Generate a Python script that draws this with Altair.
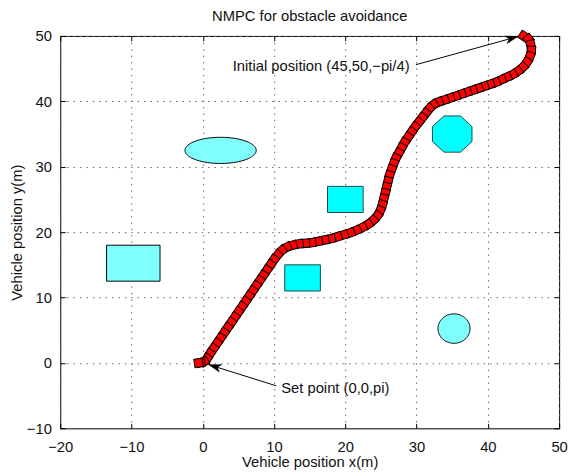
import altair as alt
import numpy as np
import pandas as pd

# ---------------- data ----------------
x_ticks = [-20, -10, 0, 10, 20, 30, 40, 50]
y_ticks = [-10, 0, 10, 20, 30, 40, 50]

# vehicle trajectory markers (from the initial position to the set point)
traj_x = [45.0, 45.7, 46.0, 46.1, 45.9, 45.5, 44.9, 44.2, 43.5, 42.7, 41.9, 41.1, 40.3,
          39.5, 38.7, 37.9, 37.1, 36.3, 35.5, 34.7, 33.9, 33.1, 32.4, 31.8, 31.3, 30.8,
          30.3, 29.8, 29.3, 28.8, 28.3, 27.9, 27.5, 27.1, 26.8, 26.5, 26.2, 26.0, 25.8,
          25.6, 25.4, 25.2, 24.9, 24.5, 23.9, 23.2, 22.4, 21.6, 20.7, 19.8, 18.9, 18.0,
          17.1, 16.2, 15.3, 14.4, 13.5, 12.6, 11.8, 11.1, 10.5, 10.0, 9.5, 9.0, 8.5,
          8.0, 7.5, 7.0, 6.5, 6.0, 5.5, 5.0, 4.5, 4.0, 3.5, 3.0, 2.5, 2.0, 1.5, 1.0,
          0.6, 0.2, -0.3, -0.6]
traj_y = [50.0, 49.5, 48.7, 47.8, 46.9, 46.0, 45.2, 44.6, 44.1, 43.7, 43.3, 42.9, 42.6,
          42.3, 42.0, 41.7, 41.4, 41.1, 40.8, 40.5, 40.2, 39.9, 39.5, 38.9, 38.2, 37.5,
          36.8, 36.1, 35.3, 34.5, 33.7, 32.9, 32.1, 31.3, 30.5, 29.6, 28.7, 27.8, 26.9,
          26.0, 25.1, 24.2, 23.3, 22.5, 21.8, 21.2, 20.7, 20.3, 19.9, 19.6, 19.3, 19.0,
          18.8, 18.6, 18.4, 18.3, 18.2, 18.0, 17.7, 17.2, 16.5, 15.8, 15.0, 14.2, 13.4,
          12.6, 11.8, 11.0, 10.2, 9.4, 8.6, 7.8, 7.0, 6.2, 5.4, 4.6, 3.8, 3.0, 2.2, 1.4,
          0.7, 0.2, 0.05, 0.0]

# rectangular obstacles
rect_x1 = [-13.5, 11.5, 17.5]
rect_x2 = [-6.0, 16.5, 22.5]
rect_y1 = [12.5, 11.0, 23.0]
rect_y2 = [18.0, 15.0, 27.0]
rect_fill = ["#80FFFF", "#00FFFF", "#00FFFF"]
rect_stroke = ["#000000", "#1c4a4a", "#1c4a4a"]

# ellipse obstacle
ell_cx, ell_cy, ell_a, ell_b = 2.5, 32.5, 5.0, 2.0
# circular obstacle
cir_cx, cir_cy, cir_r = 35.25, 5.25, 2.25
# octagon obstacle (centre, circumradius)
oct_cx, oct_cy, oct_r = 35.0, 35.0, 3.0

# annotations
ann_text = ["Initial position (45,50,\u2212pi/4)", "Set point (0,0,pi)"]
ann_tx = [4.2, 11.0]
ann_ty = [45.4, -3.9]
arrow_x0 = [29.9, 10.3]
arrow_y0 = [45.6, -3.5]
arrow_x1 = [44.2, 0.84]
arrow_y1 = [49.9, -0.26]

# ---------------- geometry / layout ----------------
W, H = 506, 398
PX_X = W / (x_ticks[-1] - x_ticks[0])
PX_Y = H / (y_ticks[-1] - y_ticks[0])
FONT = "Liberation Sans"

xs = alt.Scale(domain=[x_ticks[0], x_ticks[-1]], nice=False, zero=False)
ys = alt.Scale(domain=[y_ticks[0], y_ticks[-1]], nice=False, zero=False)

# marker headings in screen space
tx = np.array(traj_x) * PX_X
ty = -np.array(traj_y) * PX_Y
ang = (np.degrees(np.arctan2(np.gradient(ty), np.gradient(tx))) % 90.0)
traj_df = pd.DataFrame({"x": traj_x, "y": traj_y, "ang": ang})

rect_df = pd.DataFrame({"x1": rect_x1, "x2": rect_x2, "y1": rect_y1, "y2": rect_y2,
                        "fill": rect_fill, "stroke": rect_stroke})

# filled shapes as areas between lower and upper outlines
t = np.linspace(np.pi, 0, 61)
ell_df = pd.DataFrame({"x": ell_cx + ell_a * np.cos(t),
                       "lo": ell_cy - ell_b * np.sin(t), "hi": ell_cy + ell_b * np.sin(t)})
cir_df = pd.DataFrame({"x": cir_cx + cir_r * np.cos(t),
                       "lo": cir_cy - cir_r * np.sin(t), "hi": cir_cy + cir_r * np.sin(t)})
c1, s1 = np.cos(np.radians(22.5)) * oct_r, np.sin(np.radians(22.5)) * oct_r
oct_df = pd.DataFrame({"x": [oct_cx - c1, oct_cx - s1, oct_cx + s1, oct_cx + c1],
                       "lo": [oct_cy - s1, oct_cy - c1, oct_cy - c1, oct_cy - s1],
                       "hi": [oct_cy + s1, oct_cy + c1, oct_cy + c1, oct_cy + s1]})

arr_df = pd.DataFrame({"x0": arrow_x0, "y0": arrow_y0, "x1": arrow_x1, "y1": arrow_y1})
dxp = (np.array(arrow_x1) - np.array(arrow_x0)) * PX_X
dyp = -(np.array(arrow_y1) - np.array(arrow_y0)) * PX_Y
arr_df["ang"] = np.degrees(np.arctan2(dxp, -dyp)) % 360
text_df = pd.DataFrame({"t": ann_text, "x": ann_tx, "y": ann_ty})

grid_kw = dict(grid=True, gridDash=[1.5, 5], gridColor="#666666", gridWidth=1)
ax_main_x = alt.Axis(values=x_ticks, title="Vehicle position x(m)", ticks=False, tickSize=0,
                     domain=False, labelFlush=False, labelPadding=11, titlePadding=1,
                     labelFontSize=15, titleFontSize=15, labelFont=FONT, titleFont=FONT,
                     labelColor="#111", titleColor="#111", titleFontWeight="normal", **grid_kw)
ax_main_y = alt.Axis(values=y_ticks, title="Vehicle position y(m)", ticks=False, tickSize=0,
                     domain=False, labelFlush=False, labelPadding=9, titlePadding=2,
                     labelFontSize=15, titleFontSize=15, labelFont=FONT, titleFont=FONT,
                     labelColor="#111", titleColor="#111", titleFontWeight="normal", **grid_kw)


def tick_axis(values, orient):
    return alt.Axis(values=values, orient=orient, labels=False, domain=False, grid=False,
                    ticks=True, tickSize=5, offset=-5, title=None, tickColor="black",
                    tickWidth=1)


def shape_layer(df, fill, stroke, xaxis=None, yaxis=None):
    return alt.Chart(df).mark_area(fill=fill, stroke=stroke, strokeWidth=1,
                                   opacity=1).encode(
        x=alt.X("x:Q", scale=xs, axis=xaxis),
        y=alt.Y("lo:Q", scale=ys, axis=yaxis), y2="hi:Q")


rects = alt.Chart(rect_df).mark_rect(strokeWidth=1).encode(
    x=alt.X("x1:Q", scale=xs, axis=ax_main_x), x2="x2:Q",
    y=alt.Y("y1:Q", scale=ys, axis=ax_main_y), y2="y2:Q",
    fill=alt.Fill("fill:N", scale=None), stroke=alt.Stroke("stroke:N", scale=None))

ellipse = shape_layer(ell_df, "#80FFFF", "#000000",
                      tick_axis(x_ticks, "top"), tick_axis(y_ticks, "right"))
circle = shape_layer(cir_df, "#80FFFF", "#000000")
octagon = shape_layer(oct_df, "#00FFFF", "#1c4a4a")

traj = alt.Chart(traj_df).mark_point(shape="square", filled=True, fill="#FF0000",
                                     stroke="black", strokeWidth=1, size=72,
                                     opacity=1).encode(
    x=alt.X("x:Q", scale=xs, axis=tick_axis(x_ticks, "bottom")),
    y=alt.Y("y:Q", scale=ys, axis=tick_axis(y_ticks, "left")),
    angle=alt.Angle("ang:Q", scale=None))

shafts = alt.Chart(arr_df).mark_rule(color="black", strokeWidth=1).encode(
    x=alt.X("x0:Q", scale=xs, axis=None), y=alt.Y("y0:Q", scale=ys, axis=None),
    x2="x1:Q", y2="y1:Q")

heads = alt.Chart(arr_df).mark_point(shape="M0,0L-0.5,1.6L0,1.15L0.5,1.6Z", filled=True,
                                     fill="black", stroke="black", strokeWidth=0.5,
                                     size=240, opacity=1).encode(
    x=alt.X("x1:Q", scale=xs, axis=None), y=alt.Y("y1:Q", scale=ys, axis=None),
    angle=alt.Angle("ang:Q", scale=None))

texts = alt.Chart(text_df).mark_text(align="left", baseline="middle", font=FONT,
                                     fontSize=15, color="#111").encode(
    x=alt.X("x:Q", scale=xs, axis=None), y=alt.Y("y:Q", scale=ys, axis=None), text="t:N")

chart = alt.layer(rects, ellipse, circle, octagon, traj, shafts, heads, texts).resolve_axis(
    x="independent", y="independent"
).properties(
    width=W, height=H,
    title=alt.TitleParams("NMPC for obstacle avoidance", font=FONT, fontSize=15,
                          fontWeight="normal", color="#111", anchor="middle", offset=4),
    autosize=alt.AutoSizeParams(type="none"),
    padding={"left": 53, "top": 25, "right": 9, "bottom": 44},
).configure_view(stroke="black", strokeWidth=1)

chart.save("out.html", embed_options={"renderer": "svg", "actions": False})
